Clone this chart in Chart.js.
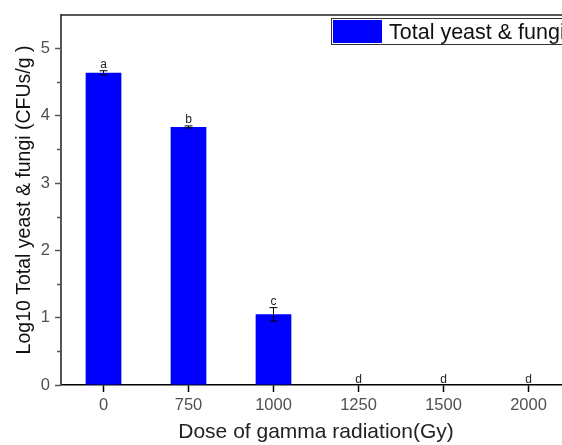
<!DOCTYPE html>
<html>
<head>
<meta charset="utf-8">
<title>Total yeast & fungi vs gamma dose</title>
<script src="https://cdn.jsdelivr.net/npm/chart.js@4.4.1/dist/chart.umd.min.js"></script>
<style>
  html, body { margin: 0; padding: 0; background: #fff; overflow: hidden; }
  #wrap { width: 562px; height: 445px; overflow: hidden; }
</style>
</head>
<body>
<div id="wrap"><canvas id="chart" width="580" height="445"></canvas></div>
<script>
// data
var doses = ['0', '750', '1000', '1250', '1500', '2000'];
var logCounts = [4.64, 3.835, 1.05, 0, 0, 0];
var errors = [0.03, 0.015, 0.1, 0, 0, 0];
var groupLetters = ['a', 'b', 'c', 'd', 'd', 'd'];
var seriesName = 'Total yeast & fungi';

var FONT = 'Liberation Sans, Arial, sans-serif';

// error bars, letters, minor ticks, top frame line and the legend box
var annotations = {
    id: 'annotations',
    afterDatasetsDraw: function(chart) {
        var ctx = chart.ctx;
        var xScale = chart.scales.x;
        var yScale = chart.scales.y;
        var area = chart.chartArea;
        ctx.save();

        ctx.strokeStyle = '#222';
        ctx.lineWidth = 1.5;
        ctx.beginPath();
        ctx.moveTo(area.left, area.top);
        ctx.lineTo(area.right, area.top);
        ctx.stroke();

        // shorter minor ticks on the y axis
        ctx.strokeStyle = '#555';
        ctx.beginPath();
        yScale.ticks.forEach(function(t) {
            if (t.value % 1 !== 0 && t.value < yScale.max) {
                var py = Math.round(yScale.getPixelForValue(t.value)) + 0.5;
                ctx.moveTo(area.left - 4, py);
                ctx.lineTo(area.left, py);
            }
        });
        ctx.stroke();

        ctx.lineWidth = 1;
        ctx.strokeStyle = '#000';
        logCounts.forEach(function(value, i) {
            var cx = xScale.getPixelForValue(i);
            var hi = yScale.getPixelForValue(value + errors[i]);
            var lo = yScale.getPixelForValue(value - errors[i]);
            if (errors[i] > 0) {
                ctx.beginPath();
                ctx.moveTo(cx, hi); ctx.lineTo(cx, lo);
                ctx.moveTo(cx - 4, hi); ctx.lineTo(cx + 4, hi);
                ctx.moveTo(cx - 4, lo); ctx.lineTo(cx + 4, lo);
                ctx.stroke();
            }
            ctx.fillStyle = '#222';
            ctx.font = '12px ' + FONT;
            ctx.textAlign = 'center';
            ctx.textBaseline = 'alphabetic';
            ctx.fillText(groupLetters[i], cx, hi - 2.5);
        });

        // legend
        ctx.strokeStyle = '#333';
        ctx.lineWidth = 1;
        ctx.strokeRect(331.5, 18.5, 240, 26);
        ctx.fillStyle = '#0000ff';
        ctx.fillRect(333, 20, 49, 23);
        ctx.fillStyle = '#111';
        ctx.font = '21.5px ' + FONT;
        ctx.textAlign = 'left';
        ctx.fillText(seriesName, 389, 38.5);

        ctx.restore();
    }
};

var chart = new Chart(document.getElementById('chart').getContext('2d'), {
    type: 'bar',
    data: {
        labels: doses,
        datasets: [{
            label: seriesName,
            data: logCounts,
            backgroundColor: '#0000ff',
            borderWidth: 0,
            barPercentage: 0.84,
            categoryPercentage: 0.5
        }]
    },
    options: {
        responsive: false,
        animation: false,
        layout: { padding: { top: 9, right: 9, left: 0, bottom: 0 } },
        plugins: {
            legend: { display: false },
            tooltip: { enabled: false }
        },
        scales: {
            x: {
                offset: true,
                grid: {
                    drawOnChartArea: false,
                    offset: false,
                    tickLength: 7,
                    color: '#000',
                    tickWidth: 1.5
                },
                border: { color: '#000', width: 1.5 },
                ticks: { color: '#505050', font: { family: FONT, size: 16.5 }, padding: 4 },
                title: {
                    display: true,
                    text: 'Dose of gamma radiation(Gy)',
                    color: '#222',
                    font: { family: FONT, size: 21 },
                    padding: { top: 0, bottom: 0 }
                },
                afterFit: function(scale) { scale.height = 60; }
            },
            y: {
                min: 0,
                max: 5.5,
                ticks: {
                    stepSize: 0.5,
                    color: '#505050',
                    font: { family: FONT, size: 16.5 },
                    padding: 5,
                    callback: function(value) { return value % 1 === 0 ? value : ''; }
                },
                grid: {
                    drawOnChartArea: false,
                    tickLength: 6,
                    tickWidth: 1.5,
                    color: function(c) { return c.tick && c.tick.value % 1 === 0 ? '#555' : 'rgba(0,0,0,0)'; }
                },
                border: { color: '#555', width: 2 },
                title: {
                    display: true,
                    text: 'Log10 Total yeast & fungi (CFUs/g )',
                    color: '#111',
                    font: { family: FONT, size: 19.5 },
                    padding: { top: 12.5, bottom: 0 }
                },
                afterFit: function(scale) { scale.width = 61; }
            }
        }
    },
    plugins: [annotations]
});
</script>
</body>
</html>
